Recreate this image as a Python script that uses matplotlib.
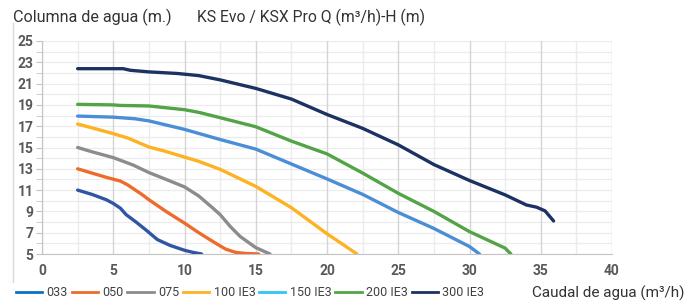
import matplotlib
matplotlib.use("Agg")
import matplotlib.pyplot as plt
from matplotlib.lines import Line2D
from matplotlib.ticker import MultipleLocator

plt.rcParams["font.family"] = ["Roboto", "DejaVu Sans"]

# series: flow (m3/h) and head (m)
names = ["033", "050", "075", "100 IE3", "150 IE3", "200 IE3", "300 IE3"]

q_033 = [2.5, 3.5, 4.5, 5.0, 5.5, 5.9, 6.6, 7.3, 8.1, 9.0, 10.0, 10.6, 11.2]
h_033 = [11.0, 10.6, 10.1, 9.75, 9.3, 8.7, 8.0, 7.25, 6.35, 5.8, 5.35, 5.15, 5.0]

q_050 = [2.5, 3.5, 4.5, 5.5, 6.0, 7.0, 7.5, 8.7, 10.0, 11.0, 12.2, 12.9, 13.6, 14.3, 15.2]
h_050 = [13.0, 12.6, 12.2, 11.85, 11.5, 10.6, 10.1, 9.0, 7.9, 7.0, 6.0, 5.45, 5.15, 5.05, 5.0]

q_075 = [2.5, 3.5, 5.0, 6.4, 7.5, 8.9, 10.0, 11.0, 12.0, 12.5, 13.2, 13.9, 15.0, 16.0]
h_075 = [15.0, 14.6, 14.05, 13.35, 12.65, 11.9, 11.3, 10.45, 9.3, 8.7, 7.6, 6.65, 5.6, 5.0]

q_100 = [2.5, 3.5, 5.0, 6.0, 7.5, 8.5, 10.0, 11.0, 12.5, 15.0, 17.5, 20.0, 21.0, 22.1]
h_100 = [17.2, 16.85, 16.3, 15.9, 15.05, 14.7, 14.1, 13.7, 12.95, 11.35, 9.35, 6.9, 6.0, 5.0]

q_150 = [2.5, 5.0, 6.5, 7.5, 10.0, 12.5, 15.0, 17.5, 20.0, 22.5, 25.0, 27.5, 30.0, 30.7]
h_150 = [17.95, 17.85, 17.7, 17.5, 16.7, 15.75, 14.85, 13.45, 12.05, 10.6, 8.9, 7.4, 5.7, 5.0]

q_200 = [2.5, 5.0, 5.5, 7.5, 10.0, 11.0, 12.5, 15.0, 17.5, 20.0, 22.5, 25.0, 27.5, 30.0, 32.5, 32.9]
h_200 = [19.05, 19.0, 18.95, 18.9, 18.55, 18.3, 17.8, 16.95, 15.6, 14.4, 12.6, 10.7, 9.0, 7.1, 5.55, 5.0]

q_300 = [2.5, 5.7, 6.2, 7.5, 9.5, 11.0, 12.5, 15.0, 17.5, 20.0, 22.5, 25.0, 27.5, 30.0, 32.5, 34.0, 34.7, 35.3, 35.9]
h_300 = [22.4, 22.4, 22.25, 22.1, 21.95, 21.75, 21.35, 20.55, 19.55, 18.1, 16.8, 15.25, 13.4, 11.9, 10.55, 9.6, 9.4, 9.05, 8.1]

flows = [q_033, q_050, q_075, q_100, q_150, q_200, q_300]
heads = [h_033, h_050, h_075, h_100, h_150, h_200, h_300]

line_colors = ["#2f55a4", "#ee6c2b", "#8c8c8c", "#fdb221", "#4a8ed6", "#52a447", "#1b3263"]
legend_colors = ["#0a72c4", "#ee6c2b", "#8c8c8c", "#fdb221", "#2ec6f5", "#52a447", "#1b3263"]

fig = plt.figure(figsize=(6.93, 3.02), dpi=100)
fig.patch.set_facecolor("white")
ax = fig.add_axes([42 / 693, 1 - 254 / 302, 570 / 693, 213 / 302])

# grid
for v in range(1, 26):
    ax.axhline(v, color="#ececec", lw=0.9, zorder=0)
for k in range(0, 17):
    xv = k * 2.5
    col = "#d4d4d4" if k % 2 == 0 else "#ebebeb"
    ax.axvline(xv, color=col, lw=1.0, zorder=0)

for q, h, c in zip(flows, heads, line_colors):
    ax.plot(q, h, color=c, lw=2.4, solid_capstyle="round", zorder=3)

ax.set_xlim(0, 40)
ax.set_ylim(5, 25)
ax.xaxis.set_major_locator(MultipleLocator(5))
ax.yaxis.set_minor_locator(MultipleLocator(1))
ax.set_yticks(range(5, 26, 2))
for s in ["top", "right"]:
    ax.spines[s].set_visible(False)
ax.spines["left"].set_color("#c4c4c4")
ax.spines["bottom"].set_color("#c4c4c4")
ax.tick_params(axis="y", which="both", length=4, color="#c4c4c4", labelsize=10,
               labelcolor="#595959", pad=2)
ax.tick_params(axis="x", length=0, labelsize=10, labelcolor="#595959", pad=7)
for lab in ax.get_xticklabels() + ax.get_yticklabels():
    lab.set_fontweight("bold")

fig.text(13 / 693, 1 - 17 / 302, "Columna de agua (m.)", fontsize=11.6, color="#333333",
         ha="left", va="center")
fig.text(197 / 693, 1 - 17 / 302, "KS Evo / KSX Pro Q (m\u00b3/h)-H (m)", fontsize=11.3,
         color="#333333", ha="left", va="center")
fig.text(532 / 693, 1 - 293 / 302, "Caudal de agua (m\u00b3/h)", fontsize=11, color="#333333",
         ha="left", va="center")

fig.add_artist(Line2D([13 / 693, 13 / 693], [1 - 23 / 302, 1 - 282 / 302],
                      color="#d9d9d9", lw=1.0))

handles = [Line2D([0], [0], color=c, lw=2.0) for c in legend_colors]
fig.legend(handles, names, loc="center left", bbox_to_anchor=(16 / 693, 1 - 293 / 302),
           ncol=7, frameon=False, fontsize=9, handlelength=2.1, handletextpad=0.35,
           columnspacing=0.3, borderpad=0, borderaxespad=0, labelcolor="#404040")

fig.savefig("out.png", dpi=100, facecolor="white")
